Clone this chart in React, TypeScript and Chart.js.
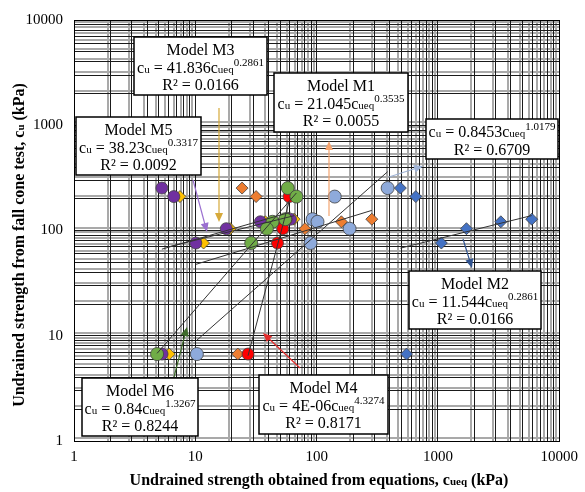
import React, { useEffect, useRef } from 'react';
import { Chart, registerables } from 'chart.js';

Chart.register(...registerables);

// Undrained strength from fall cone test, cu (kPa), one value per sample
const cuFallCone = [253, 210, 128, 121, 104, 76, 6.7];

// Undrained strength obtained from equations, cueq (kPa), per model
const cueqM1 = [24.3, 31.7, 285, 160, 80.2, 10.1, 22.4];
const cueqM2 = [490, 657, 5930, 3300, 1718, 1067, 551];
const cueqM3 = [57, 7.47, 65.2, 37.8, 19.4, 11.7, 6.1];
const cueqM4 = [58, 59.3, 56, 53.3, 52.6, 47.6, 27.2];
const cueqM5 = [5.3, 6.65, 60.8, 34.4, 18.0, 10.1, 5.32];
const cueqM6 = [57.8, 68.1, 55.1, 43.3, 38.9, 28.9, 4.84];
const cueqM7 = [385, 141, 92.6, 101.7, 187, 89.1, 10.3];

// Power trendlines cu = a * cueq^b
const trendCoefText = ['21.045', '11.544', '41.836', '4E-06', '38.23', '0.84', '0.8453'];
const trendA = [21.045, 11.544, 41.836, 4e-6, 38.23, 0.84, 0.8453];
const trendB = [0.3535, 0.2861, 0.2861, 4.3274, 0.3317, 1.3267, 1.0179];
const trendR2 = ['0.0055', '0.0166', '0.0166', '0.8171', '0.0092', '0.8244', '0.6709'];
const modelTitles = ['Model M1', 'Model M2', 'Model M3', 'Model M4', 'Model M5', 'Model M6', ''];

const xTickLabels = ['1', '10', '100', '1000', '10000'];
const yTickLabels = ['1', '10', '100', '1000', '10000'];

const modelX = [cueqM1, cueqM2, cueqM3, cueqM4, cueqM5, cueqM6, cueqM7];

// styles (not data)
const seriesStyle = [
  { fill: '#ed7d31', shape: 'rectRot', r: 6 },
  { fill: '#4472c4', shape: 'rectRot', r: 6 },
  { fill: '#ffc000', shape: 'rectRot', r: 6 },
  { fill: '#ff0000', shape: 'circle', r: 6 },
  { fill: '#7030a0', shape: 'circle', r: 6 },
  { fill: '#70ad47', shape: 'circle', r: 6.5 },
  { fill: '#8eaadb', shape: 'circle', r: 6.5 },
];
// drawing order, top first
const drawOrder = [5, 3, 4, 2, 0, 6, 1];

const boxes = [
  { m: 2, x0: 134, y0: 37, x1: 267, y1: 95 },
  { m: 4, x0: 76, y0: 117, x1: 201, y1: 175 },
  { m: 0, x0: 274, y0: 73, x1: 408, y1: 132 },
  { m: 6, x0: 426, y0: 119, x1: 558, y1: 159 },
  { m: 1, x0: 409, y0: 271, x1: 541, y1: 329 },
  { m: 5, x0: 82, y0: 378, x1: 198, y1: 436 },
  { m: 3, x0: 259, y0: 375, x1: 388, y1: 434 },
];

const arrows = [
  { from: [219, 108], to: [219, 222], color: '#d6a93a' },
  { from: [193, 180], to: [207, 232], color: '#9a6fd0' },
  { from: [329, 216], to: [329, 141], color: '#f4a470' },
  { from: [389, 177], to: [423, 166], color: '#9fb3d6' },
  { from: [463, 239], to: [472, 268], color: '#2f528f' },
  { from: [174, 377], to: [187, 327], color: '#3e6b2a' },
  { from: [300, 368], to: [263, 333], color: '#e32b2b' },
];

const gridValues: number[] = [];
for (let d = 0; d < 4; d++) for (let m = 1; m < 10; m++) gridValues.push(m * Math.pow(10, d));
gridValues.push(10000);

const SERIF = '"Liberation Serif", "Times New Roman", serif';

type Run = { t: string; size: number; dy?: number; bold?: boolean };

function drawRuns(ctx: CanvasRenderingContext2D, runs: Run[], cx: number, by: number) {
  let total = 0;
  const widths: number[] = [];
  for (const r of runs) {
    ctx.font = `${r.bold ? 'bold ' : ''}${r.size}px ${SERIF}`;
    const w = ctx.measureText(r.t).width;
    widths.push(w);
    total += w;
  }
  let x = cx - total / 2;
  runs.forEach((r, i) => {
    ctx.font = `${r.bold ? 'bold ' : ''}${r.size}px ${SERIF}`;
    ctx.fillText(r.t, x, by + (r.dy || 0));
    x += widths[i];
  });
}

function tickLabel(labels: string[]) {
  return (value: any) => {
    const l = Math.log10(Number(value));
    const r = Math.round(l);
    return Math.abs(l - r) < 1e-6 ? labels[r] : '';
  };
}

const annotPlugin = {
  id: 'annot',
  beforeDraw(chart: any) {
    const { ctx, chartArea: ca, scales } = chart;
    ctx.save();
    ctx.fillStyle = '#fff';
    ctx.fillRect(0, 0, chart.width, chart.height);
    ctx.strokeStyle = '#a9a9a9';
    ctx.lineWidth = 2;
    for (const v of gridValues) {
      const px = Math.round(scales.x.getPixelForValue(v)) - 3;
      if (px > ca.left + 1 && px < ca.right - 1) {
        ctx.beginPath();
        ctx.moveTo(px, ca.top);
        ctx.lineTo(px, ca.bottom);
        ctx.stroke();
      }
      const py = Math.round(scales.y.getPixelForValue(v)) - 3;
      if (py > ca.top + 1 && py < ca.bottom - 1) {
        ctx.beginPath();
        ctx.moveTo(ca.left, py);
        ctx.lineTo(ca.right, py);
        ctx.stroke();
      }
    }
    ctx.restore();
  },
  afterDraw(chart: any) {
    const { ctx, chartArea: ca } = chart;
    ctx.save();
    ctx.strokeStyle = '#000';
    ctx.lineWidth = 1;
    ctx.strokeRect(Math.round(ca.left) + 0.5, Math.round(ca.top) + 0.5, Math.round(ca.right - ca.left), Math.round(ca.bottom - ca.top));

    // arrows
    for (const a of arrows) {
      const [x0, y0] = a.from;
      const [x1, y1] = a.to;
      const ang = Math.atan2(y1 - y0, x1 - x0);
      const hl = 9, hw = 4;
      ctx.strokeStyle = a.color;
      ctx.fillStyle = a.color;
      ctx.lineWidth = 1.2;
      ctx.beginPath();
      ctx.moveTo(x0, y0);
      ctx.lineTo(x1 - Math.cos(ang) * hl * 0.8, y1 - Math.sin(ang) * hl * 0.8);
      ctx.stroke();
      ctx.beginPath();
      ctx.moveTo(x1, y1);
      ctx.lineTo(x1 - Math.cos(ang) * hl - Math.sin(ang) * hw, y1 - Math.sin(ang) * hl + Math.cos(ang) * hw);
      ctx.lineTo(x1 - Math.cos(ang) * hl + Math.sin(ang) * hw, y1 - Math.sin(ang) * hl - Math.cos(ang) * hw);
      ctx.closePath();
      ctx.fill();
    }

    // boxes
    ctx.fillStyle = '#000';
    ctx.textBaseline = 'alphabetic';
    for (const b of boxes) {
      ctx.fillStyle = '#fff';
      ctx.fillRect(b.x0, b.y0, b.x1 - b.x0, b.y1 - b.y0);
      ctx.strokeStyle = '#000';
      ctx.lineWidth = 1.5;
      ctx.strokeRect(b.x0, b.y0, b.x1 - b.x0, b.y1 - b.y0);
      ctx.fillStyle = '#000';
      const cx = (b.x0 + b.x1) / 2;
      const title = modelTitles[b.m];
      let base = b.y0 + 18;
      if (title) {
        drawRuns(ctx, [{ t: title, size: 16 }], cx, base);
        base += 17.5;
      }
      drawRuns(
        ctx,
        [
          { t: 'c', size: 16 },
          { t: 'u', size: 11 },
          { t: ' = ' + trendCoefText[b.m] + 'c', size: 16 },
          { t: 'ueq', size: 11 },
          { t: String(trendB[b.m]), size: 11, dy: -7 },
        ],
        cx,
        base
      );
      base += 17.5;
      drawRuns(ctx, [{ t: 'R\u00B2 = ' + trendR2[b.m], size: 16 }], cx, base);
    }

    // axis titles
    ctx.fillStyle = '#000';
    drawRuns(
      ctx,
      [
        { t: 'Undrained strength obtained from equations, c', size: 16, bold: true },
        { t: 'ueq', size: 11, bold: true },
        { t: ' (kPa)', size: 16, bold: true },
      ],
      319,
      485
    );
    ctx.save();
    ctx.translate(24, 245);
    ctx.rotate(-Math.PI / 2);
    drawRuns(
      ctx,
      [
        { t: 'Undrained strength from fall cone test, c', size: 16, bold: true },
        { t: 'u', size: 11, bold: true },
        { t: ' (kPa)', size: 16, bold: true },
      ],
      0,
      0
    );
    ctx.restore();
    ctx.restore();
  },
};

export default function App() {
  const ref = useRef<HTMLCanvasElement | null>(null);
  useEffect(() => {
    if (!ref.current) return;
    const datasets: any[] = [];
    // trendlines (drawn on top)
    for (let m = 0; m < 7; m++) {
      const xs = modelX[m];
      const lo = Math.min(...xs);
      const hi = Math.max(...xs);
      datasets.push({
        type: 'line',
        data: [
          { x: lo, y: trendA[m] * Math.pow(lo, trendB[m]) },
          { x: hi, y: trendA[m] * Math.pow(hi, trendB[m]) },
        ],
        borderColor: '#333',
        borderWidth: 1,
        pointRadius: 0,
        fill: false,
        showLine: true,
      });
    }
    for (const m of drawOrder) {
      const st = seriesStyle[m];
      datasets.push({
        type: 'scatter',
        data: modelX[m].map((x, i) => ({ x, y: cuFallCone[i] })),
        pointStyle: st.shape,
        pointRadius: st.r,
        backgroundColor: st.fill,
        borderColor: '#404040',
        borderWidth: 0.8,
      });
    }
    const chart = new Chart(ref.current, {
      type: 'scatter',
      data: { datasets },
      plugins: [annotPlugin],
      options: {
        responsive: false,
        animation: false,
        layout: { padding: { left: 0, top: 20, right: 22, bottom: 0 } },
        plugins: { legend: { display: false }, tooltip: { enabled: false } },
        scales: {
          x: {
            type: 'logarithmic',
            min: 1,
            max: 10000,
            afterBuildTicks: (s: any) => {
              s.ticks = gridValues.map((v) => ({ value: v }));
            },
            afterFit: (s: any) => {
              s.height = 51;
            },
            ticks: {
              autoSkip: false,
              maxRotation: 0,
              padding: 7,
              color: '#000',
              font: { family: SERIF, size: 15 },
              callback: tickLabel(xTickLabels),
            },
            grid: { color: '#1a1a1a', lineWidth: 1, drawTicks: false },
            border: { color: '#000', width: 1 },
          },
          y: {
            type: 'logarithmic',
            min: 1,
            max: 10000,
            afterBuildTicks: (s: any) => {
              s.ticks = gridValues.map((v) => ({ value: v }));
            },
            afterFit: (s: any) => {
              s.width = 74;
            },
            ticks: {
              autoSkip: false,
              padding: 11,
              color: '#000',
              font: { family: SERIF, size: 15 },
              callback: tickLabel(yTickLabels),
            },
            grid: { color: '#1a1a1a', lineWidth: 1, drawTicks: false },
            border: { color: '#000', width: 1 },
          },
        },
      } as any,
    });
    return () => chart.destroy();
  }, []);
  return (
    <div style={{ position: 'absolute', left: 0, top: 0, width: 585, height: 492, background: '#fff' }}>
      <canvas ref={ref} width={585} height={492} />
    </div>
  );
}
